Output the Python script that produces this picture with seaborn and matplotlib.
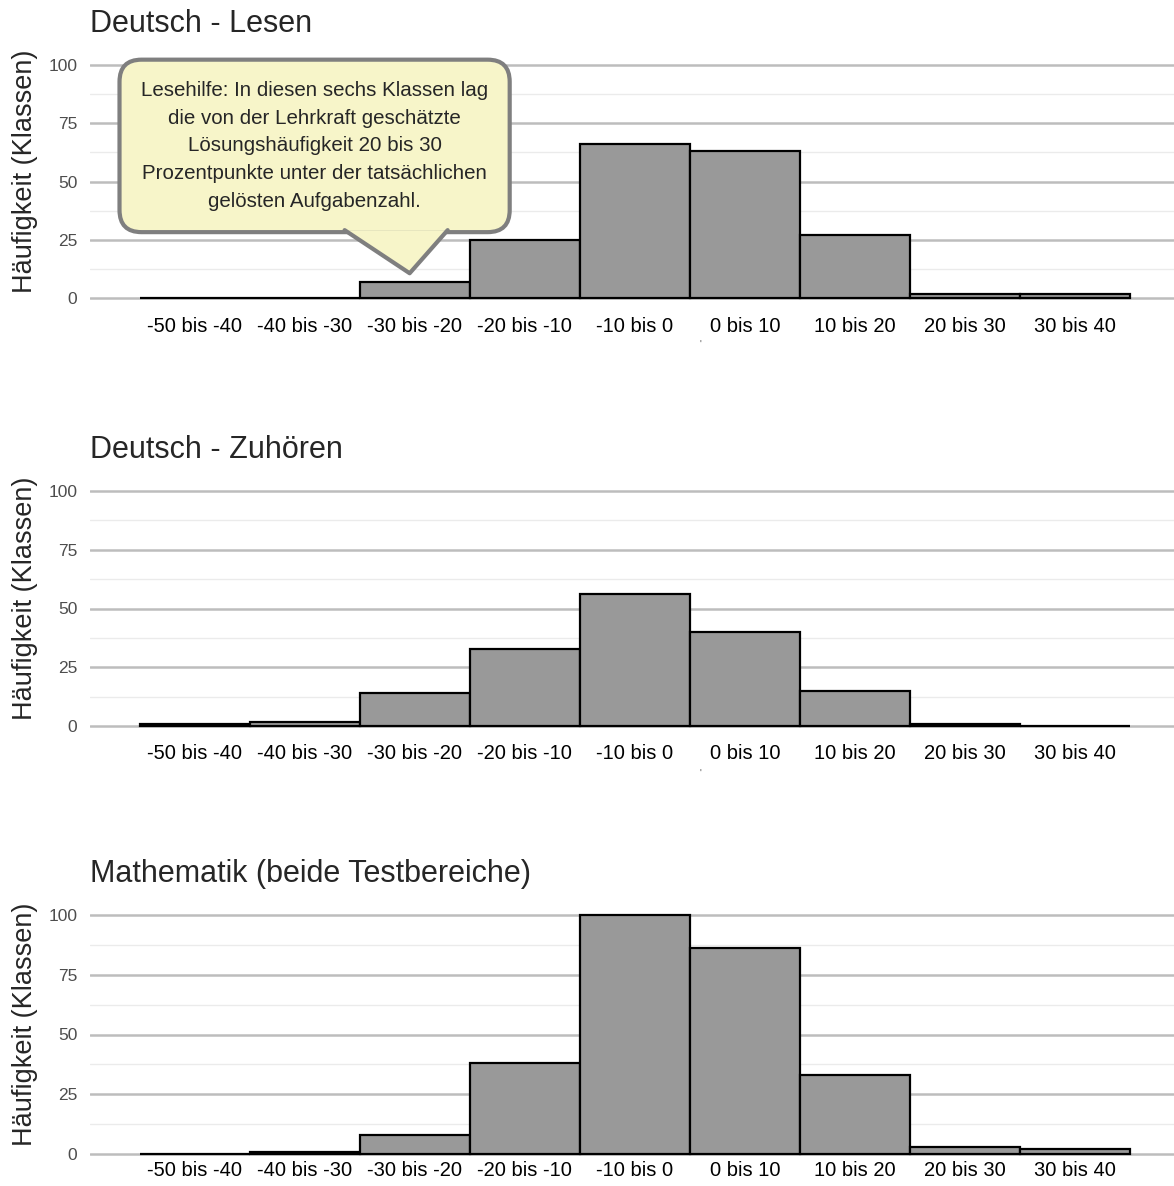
"""Abweichung geschätzte vs. tatsächliche Lösungshäufigkeit"""
import matplotlib
matplotlib.use("Agg")
import matplotlib.pyplot as plt
import pandas as pd
import seaborn as sns
from matplotlib.patches import FancyBboxPatch, Polygon

categories = ["-50 bis -40", "-40 bis -30", "-30 bis -20", "-20 bis -10", "-10 bis 0",
              "0 bis 10", "10 bis 20", "20 bis 30", "30 bis 40"]
lesen = [0, 0, 7, 25, 66, 63, 27, 2, 2]
zuhoeren = [1, 2, 14, 33, 56, 40, 15, 1, 0]
mathe = [0, 1, 8, 38, 100, 86, 33, 3, 2]
titles = ["Deutsch - Lesen", "Deutsch - Zuhören", "Mathematik (beide Testbereiche)"]
note = ("Lesehilfe: In diesen sechs Klassen lag\ndie von der Lehrkraft geschätzte\n"
        "Lösungshäufigkeit 20 bis 30\nProzentpunkte unter der tatsächlichen\n"
        "gelösten Aufgabenzahl.")

sns.set_style("white")
plt.rcParams["font.family"] = ["Liberation Sans", "DejaVu Sans"]

W, H = 1174, 1186
fig = plt.figure(figsize=(W / 100, H / 100), dpi=100)

# panel top/bottom in pixels, x tick label pad
boxes = [(53, 310, 5), (479, 738, 4), (903, 1166, -3.5)]

for i, (vals, title, (top, bot, xpad)) in enumerate(zip([lesen, zuhoeren, mathe], titles, boxes)):
    ax = fig.add_axes([90 / W, 1 - bot / H, 1084 / W, (bot - top) / H])
    df = pd.DataFrame({"Kategorie": categories, "Anzahl": vals})
    sns.barplot(data=df, x="Kategorie", y="Anzahl", color="#999999", saturation=1,
                width=1, edgecolor="black", linewidth=1.6, ax=ax)
    ax.set_xlim(-0.95, 8.9)
    ax.set_ylim(-5, 105)
    ax.set_yticks([0, 25, 50, 75, 100])
    ax.set_yticks([12.5, 37.5, 62.5, 87.5], minor=True)
    ax.set_axisbelow(True)
    ax.grid(axis="y", which="major", color="#bdbdbd", linewidth=1.8)
    ax.grid(axis="y", which="minor", color="#ebebeb", linewidth=1.0)
    ax.grid(axis="x", visible=False)
    for s in ax.spines.values():
        s.set_visible(False)
    ax.tick_params(axis="both", which="both", length=0)
    ax.tick_params(axis="y", labelsize=12.5, labelcolor="#4d4d4d", pad=9)
    ax.tick_params(axis="x", labelsize=14.5, labelcolor="black", pad=xpad)
    ax.set_xlabel("")
    ax.set_ylabel("Häufigkeit (Klassen)", fontsize=19.5)
    ax.yaxis.set_label_coords(-0.048, 0.54)
    ax.set_title(title, loc="left", fontsize=22, pad=15)
    if i < 2:
        ax.text(0.563, -0.137, "'", transform=ax.transAxes, fontsize=7,
                color="#555555", ha="center", va="center")

    if i == 0:
        # callout bubble (pixel -> data: x=(px-195)/110, y=(298-py)/2.33)
        def px(x, y):
            return ((x - 195) / 110, (298 - y) / 2.33)
        x0, y0 = px(120, 232)
        x1, y1 = px(510, 60)
        bubble = FancyBboxPatch((x0, y0), x1 - x0, y1 - y0,
                                boxstyle="round,pad=0,rounding_size=0.2",
                                mutation_aspect=110 / 2.33,
                                facecolor="#f7f5c9", edgecolor="#7f7f7f",
                                linewidth=3, clip_on=False, zorder=5)
        ax.add_patch(bubble)
        tri = [px(345, 230), px(410, 273), px(448, 230)]
        ax.add_patch(Polygon(tri, closed=True, facecolor="#f7f5c9", edgecolor="none",
                             clip_on=False, zorder=6))
        ax.plot([tri[0][0], tri[1][0], tri[2][0]], [tri[0][1], tri[1][1], tri[2][1]],
                color="#7f7f7f", linewidth=3, clip_on=False, zorder=7,
                solid_joinstyle="round")
        cx, cy = px(315, 146)
        ax.text(cx, cy, note, ha="center", va="center", fontsize=14.8,
                linespacing=1.58, zorder=8)

fig.savefig("out.png", dpi=100)
